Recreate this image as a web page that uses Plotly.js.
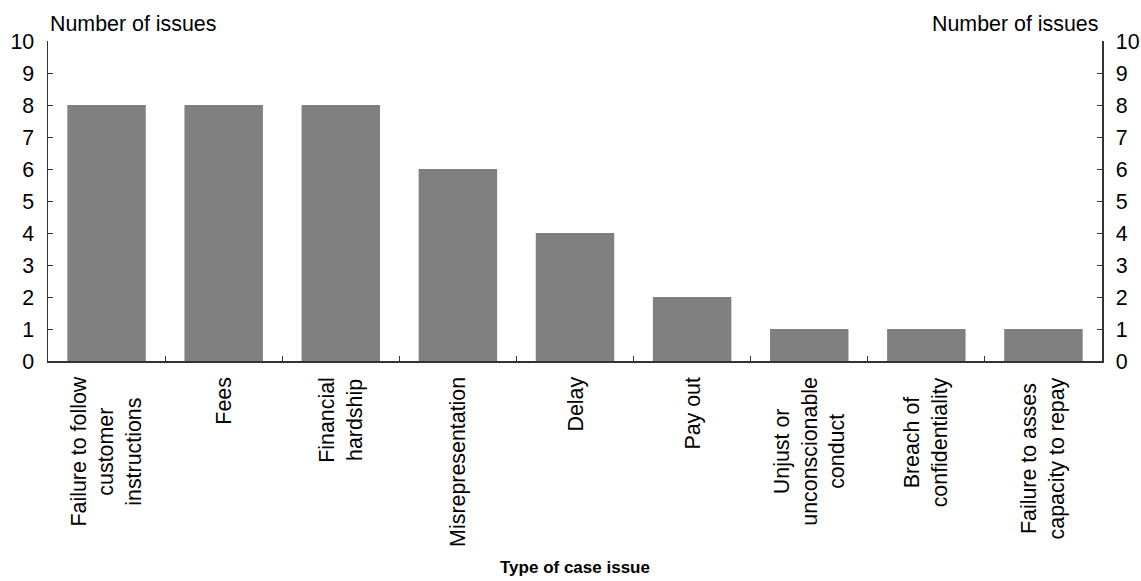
<!DOCTYPE html>
<html>
<head>
<meta charset="utf-8">
<script src="https://cdn.plot.ly/plotly-3.0.1.min.js"></script>
<style>html,body{margin:0;padding:0;background:#fff;}#chart{width:1141px;height:581px;}</style>
</head>
<body>
<div id="chart"></div>
<script>
const categories = ["Failure to follow", "Fees", "Financial hardship", "Misrepresentation", "Delay", "Pay out", "Unjust or unconscionable conduct", "Breach of confidentiality", "Failure to asses capacity to repay"];
const categoryLabels = ["Failure to follow<br>customer<br>instructions", "Fees", "Financial<br>hardship", "Misrepresentation", "Delay", "Pay out", "Unjust or<br>unconscionable<br>conduct", "Breach of<br>confidentiality", "Failure to asses<br>capacity to repay"];
const issues = [8, 8, 8, 6, 4, 2, 1, 1, 1];
const yTicks = [0, 1, 2, 3, 4, 5, 6, 7, 8, 9, 10];

const FONT = "Liberation Sans, Arial, sans-serif";
const FS = 21.4;

const trace = {
  type: "bar",
  x: categories,
  y: issues,
  marker: {color: "#808080", line: {width: 0}},
  hoverinfo: "x+y"
};
const trace2 = {
  type: "scatter", mode: "markers",
  x: [categories[0]], y: [0], yaxis: "y2",
  marker: {opacity: 0}, hoverinfo: "skip", showlegend: false
};

const annotations = categories.map((c, i) => ({
  x: c, xref: "x", y: 0, yref: "paper",
  text: categoryLabels[i], textangle: -90,
  xanchor: "center", yanchor: "top", yshift: -14,
  showarrow: false, align: "center",
  font: {family: FONT, size: FS, color: "#000"}
}));
annotations.push({
  x: 0, xref: "paper", y: 1, yref: "paper", xanchor: "left", yanchor: "bottom",
  xshift: 0, yshift: 3, text: "Number of issues", showarrow: false,
  font: {family: FONT, size: FS, color: "#000"}
});
annotations.push({
  x: 1, xref: "paper", y: 1, yref: "paper", xanchor: "right", yanchor: "bottom",
  xshift: -2, yshift: 3, text: "Number of issues", showarrow: false,
  font: {family: FONT, size: FS, color: "#000"}
});
annotations.push({
  x: 0.5, xref: "paper", y: 0, yref: "paper", xanchor: "center", yanchor: "middle",
  yshift: -206, text: "<b>Type of case issue</b>", showarrow: false,
  font: {family: FONT, size: 17, color: "#000"}
});

const yaxisBase = {
  range: [0, 10], tickvals: yTicks, ticktext: yTicks.map(String),
  ticks: "inside", ticklen: 5, tickcolor: "#333", tickwidth: 1,
  showline: true, linecolor: "#333", linewidth: 1.5,
  showgrid: false, zeroline: false, fixedrange: true,
  ticklabelstandoff: 8,
  tickfont: {family: FONT, size: FS, color: "#000"}
};

const layout = {
  width: 1141, height: 581,
  margin: {l: 48, r: 39, t: 41, b: 220},
  paper_bgcolor: "#fff", plot_bgcolor: "#fff",
  showlegend: false,
  bargap: 0.33,
  font: {family: FONT, size: FS, color: "#000"},
  xaxis: {
    type: "category", showticklabels: false,
    ticks: "inside", tickson: "boundaries", ticklen: 5, tickcolor: "#333",
    showline: true, linecolor: "#333", linewidth: 1.5, showgrid: false, zeroline: false
  },
  yaxis: Object.assign({}, yaxisBase, {side: "left"}),
  yaxis2: Object.assign({}, yaxisBase, {side: "right", overlaying: "y", anchor: "x"}),
  annotations: annotations
};

Plotly.newPlot("chart", [trace, trace2], layout, {displayModeBar: false, staticPlot: true});
</script>
</body>
</html>
